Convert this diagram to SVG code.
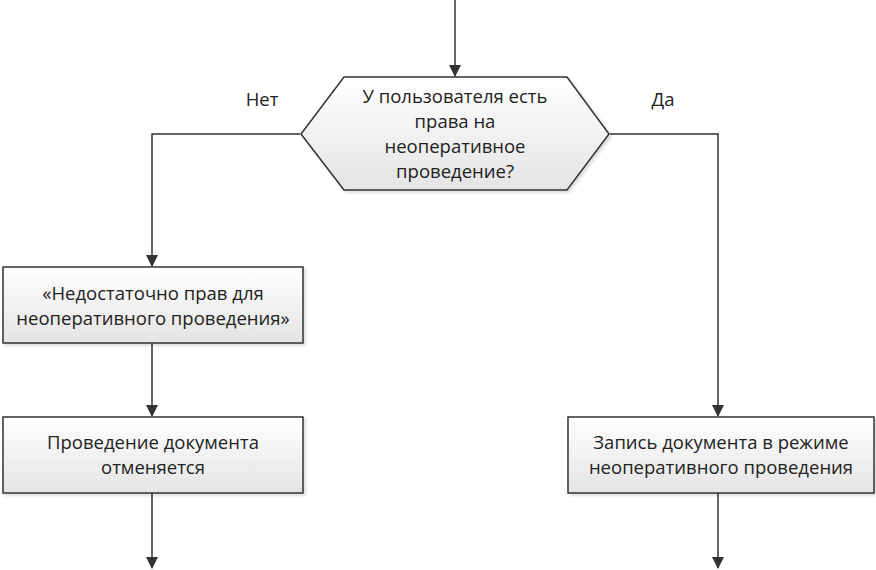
<svg xmlns="http://www.w3.org/2000/svg" width="876" height="570" viewBox="0 0 876 570">
<defs>
<linearGradient id="g" x1="0" y1="0" x2="0" y2="1">
<stop offset="0" stop-color="#ffffff"/>
<stop offset="1" stop-color="#e4e4e4"/>
</linearGradient>
<filter id="sh" x="-5%" y="-5%" width="110%" height="120%">
<feDropShadow dx="2" dy="2" stdDeviation="1.5" flood-color="#000" flood-opacity="0.15"/>
</filter>
<marker id="ar" markerWidth="12" markerHeight="12" refX="11" refY="6" orient="auto" markerUnits="userSpaceOnUse">
<path d="M0,0 L12,6 L0,12 Z" fill="#333"/>
</marker>
<style>
.n{fill:url(#g);stroke:#333;stroke-width:1.5;filter:url(#sh)}
.t{font-family:"Open Sans","Noto Sans",sans-serif;font-size:18.5px;fill:#222;text-anchor:middle}
.c{fill:none;stroke:#333;stroke-width:1.5}
</style>
</defs>
<rect width="876" height="570" fill="#fff"/>
<g id="connectors">
<path class="c" d="M455,0 V76" marker-end="url(#ar)"/>
<path class="c" d="M300,134 H152 V266" marker-end="url(#ar)"/>
<path class="c" d="M152,343 V416" marker-end="url(#ar)"/>
<path class="c" d="M152,493 V568" marker-end="url(#ar)"/>
<path class="c" d="M610,134 H718 V416" marker-end="url(#ar)"/>
<path class="c" d="M718,493 V568" marker-end="url(#ar)"/>
<text class="t" x="262" y="106">Нет</text>
<text class="t" x="663" y="106">Да</text>
</g>
<g id="decision">
<polygon class="n" points="344,77 567,77 609,134 567,190 344,190 301,134"/>
<text class="t" x="455" y="103">У пользователя есть</text>
<text class="t" x="455" y="128">права на</text>
<text class="t" x="455" y="153">неоперативное</text>
<text class="t" x="455" y="178">проведение?</text>
</g>
<g id="box1">
<rect class="n" x="3" y="267" width="300" height="76"/>
<text class="t" x="153" y="300">«Недостаточно прав для</text>
<text class="t" x="153" y="325">неоперативного проведения»</text>
</g>
<g id="box2">
<rect class="n" x="3" y="417" width="300" height="76"/>
<text class="t" x="153" y="449">Проведение документа</text>
<text class="t" x="153" y="474">отменяется</text>
</g>
<g id="box3">
<rect class="n" x="568" y="417" width="306" height="76"/>
<text class="t" x="721" y="449">Запись документа в режиме</text>
<text class="t" x="721" y="474">неоперативного проведения</text>
</g>
</svg>
